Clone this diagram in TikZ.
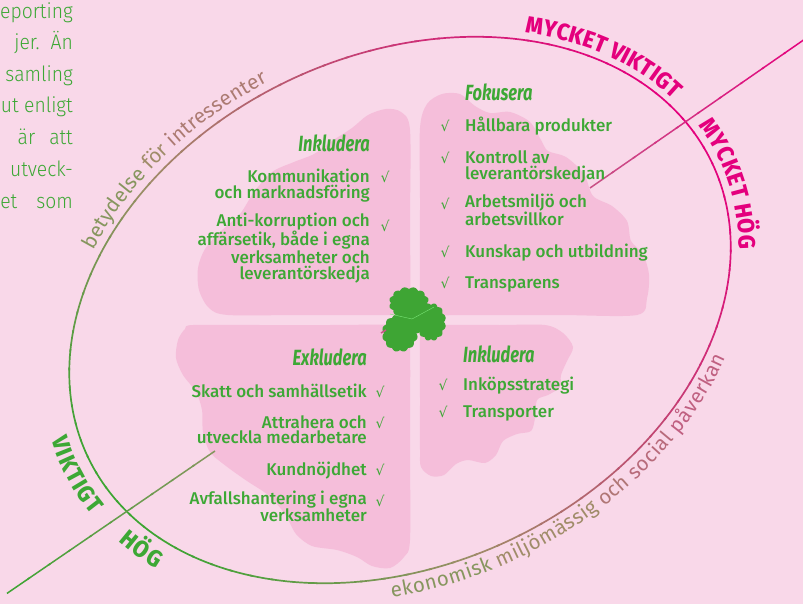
\documentclass[tikz,border=0pt]{standalone}
\usepackage{fontspec}
\usetikzlibrary{decorations.text,calc}
\setmainfont{Fira Sans}
\IfFontExistsTF{Fira Sans Medium}
  {\newfontfamily\itemfont{Fira Sans Medium}}
  {\newfontfamily\itembase{Fira Sans}\newcommand\itemfont{\itembase\bfseries}}
\IfFontExistsTF{Fira Sans Light}
  {\newfontfamily\parafont{Fira Sans Light}[FakeStretch=0.92]}
  {\newfontfamily\parafont{Fira Sans}[FakeStretch=0.92]}
\IfFontExistsTF{Fira Sans ExtraBold}
  {\newfontfamily\capsfont{Fira Sans ExtraBold}[FakeStretch=0.92]}
  {\newfontfamily\capsbase{Fira Sans}[FakeStretch=0.92]\newcommand\capsfont{\capsbase\bfseries}}
\newfontfamily\headfont{Fira Sans}[FakeStretch=0.75]
\newfontfamily\arcfont{Fira Sans}
\newfontfamily\chkfont{DejaVu Sans}
\newcommand\arcsz{\arcfont\fontsize{20.5}{20.5}\selectfont}
\newcommand\capsz{\capsfont\fontsize{23.5}{23.5}\selectfont}

\definecolor{bgpink}{RGB}{249,216,233}
\definecolor{leafpink}{RGB}{245,190,218}
\definecolor{txtgreen}{RGB}{61,168,53}
\definecolor{linegreen}{RGB}{60,165,50}
\definecolor{midtan}{RGB}{160,140,105}
\definecolor{hotpink}{RGB}{228,0,125}
\definecolor{lineolive}{RGB}{135,150,95}
\definecolor{linemauve}{RGB}{200,85,135}
\definecolor{clovergreen}{RGB}{62,165,52}

\tikzset{
  leaf/.style={fill=leafpink},
  head/.style={font=\headfont\bfseries\itshape\fontsize{22}{24}\selectfont, text=txtgreen, inner sep=0pt},
  itemL/.style={font=\itemfont\fontsize{17}{15.7}\selectfont, text=txtgreen, align=left, anchor=base west, inner sep=0pt},
  itemR/.style={font=\itemfont\fontsize{17}{15.7}\selectfont, text=txtgreen, align=right, anchor=base east, inner sep=0pt},
  chk/.style={font=\chkfont\fontsize{14}{14}\selectfont, text=txtgreen, anchor=base, inner sep=0pt},
  para/.style={font=\parafont\fontsize{21}{21}\selectfont, text=txtgreen, anchor=base east, inner sep=0pt},
}

\begin{document}
\begin{tikzpicture}[x=1pt, y=-1pt,
  declare function={ex(\u)=400+312.7*cos(\u)-107.8*sin(\u); ey(\u)=310-145.8*cos(\u)-231.1*sin(\u);}]
\useasboundingbox (0,0) rectangle (803,604);
\fill[bgpink] (0,0) rectangle (803,604);

% the four leaves
\fill[leaf] plot[smooth cycle] coordinates {(410,130) (410,220) (410,300) (404,312) (392,315) (300,315) (228,315) (209,308) (199,290) (198,268) (205,249) (220,232) (240,214) (254,192) (272,172) (294,162) (314,154) (332,141) (352,128) (368,115) (386,109) (401,112)};
\fill[leaf] plot[smooth cycle] coordinates {(420,300) (420,200) (420,128) (427,104) (442,94) (460,94) (475,106) (490,113) (510,112) (530,122) (541,140) (548,151) (566,157) (584,174) (593,196) (612,206) (627,221) (631,241) (643,254) (649,275) (647,298) (637,315) (560,315) (470,315) (428,315) (421,309)};
\fill[leaf] plot[smooth cycle] coordinates {(193,325) (260,325) (330,325) (394,325) (406,331) (410,345) (410,450) (410,540) (404,557) (390,568) (372,566) (357,557) (337,550) (312,546) (296,534) (285,514) (268,495) (247,481) (226,466) (210,452) (203,432) (202,410) (196,392) (183,375) (176,358) (178,340) (185,329)};
\fill[leaf] plot[smooth cycle] coordinates {(420,340) (424,328) (435,325) (500,325) (545,325) (563,333) (573,347) (567,361) (561,375) (560,387) (548,395) (537,400) (535,418) (531,431) (517,434) (503,441) (496,455) (485,463) (468,460) (456,464) (444,475) (431,476) (421,467) (420,450) (420,400)};

% rim, green to pink
\foreach \t in {0,4,...,356}{
  \pgfmathsetmacro\s{(1+cos(\t+2-12))/2}
  \ifdim\s pt<0.35pt
    \pgfmathsetmacro\q{\s/0.35*100}\colorlet{rimc}{midtan!\q!linegreen}
  \else
    \pgfmathsetmacro\q{(\s-0.35)/0.65*100}\colorlet{rimc}{hotpink!\q!midtan}
  \fi
  \draw[rimc, line width=1.7pt] plot[domain=\t:\t+4.5, samples=4] ({ex(\x)},{ey(\x)});
}

% the two axes
\coordinate (hiIn) at (590,188);
\coordinate (hiOut) at (805,39);
\coordinate (loIn) at (215,451);
\coordinate (loOut) at (9,592);
\foreach \i [evaluate=\i as \p using \i*10+5, evaluate=\i as \fa using \i/10, evaluate=\i as \fb using \i/10+0.11] in {0,...,9}{
  \draw[hotpink!\p!linemauve, line width=1.5pt] ($(hiIn)!\fa!(hiOut)$) -- ($(hiIn)!\fb!(hiOut)$);
  \draw[linegreen!\p!lineolive, line width=1.5pt] ($(loIn)!\fa!(loOut)$) -- ($(loIn)!\fb!(loOut)$);
}

% clover
\fill[clovergreen] (413,319) circle (15);
\foreach \cx/\cy/\rx/\ry in {409/303/20/16, 400/333/18/19, 431/322/15/19}
  \fill[clovergreen] plot[domain=0:360, samples=200] ({\cx+(\rx-2+2*abs(sin(6*\x)))*cos(\x)},{\cy+(\ry-2+2*abs(sin(6*\x)))*sin(\x)}) -- cycle;
\draw[green!50!clovergreen!60!white, line width=0.4pt] (390,314) -- (412,319) -- (434,307);
\draw[linemauve, line width=1.5pt] (381,333) -- (386,330);

% labels on the rim
\path[decorate, decoration={text along path, raise=7pt,
  text={|\capsz\color{hotpink}|MYCKET VIKTIGT}}]
  plot[samples at={49,48,...,5}] ({ex(\x)},{ey(\x)});
\path[decorate, decoration={text along path, raise=8pt,
  text={|\capsz\color{hotpink}|MYCKET HÖG}}]
  plot[samples at={9,8,...,-40}] ({ex(\x)},{ey(\x)});
\path[decorate, decoration={text along path, raise=-28pt,
  text={|\capsz\color{txtgreen}|VIKTIGT}}]
  plot[samples at={174,175,...,200}] ({ex(\x)},{ey(\x)});
\path[decorate, decoration={text along path, raise=-28pt,
  text={|\capsz\color{txtgreen}|HÖG}}]
  plot[samples at={198,199,...,225}] ({ex(\x)},{ey(\x)});
\path[decorate, decoration={text along path, raise=8pt,
  text={|\arcsz\color{lineolive}|betydelse |\arcsz\color{midtan}|för |\arcsz\color{midtan!70!linemauve}|intressenter}}]
  plot[samples at={136,135,...,80}] ({ex(\x)},{ey(\x)});
\path[decorate, decoration={text along path, raise=-20pt,
  text={|\arcsz\color{lineolive}|ekonomisk |\arcsz\color{midtan}|miljömässig |\arcsz\color{midtan!60!linemauve}|och |\arcsz\color{midtan!40!linemauve}|social |\arcsz\color{midtan!20!linemauve}|påverkan}}]
  plot[samples at={-111,-110,...,-25}] ({ex(\x)},{ey(\x)});

% upper left: Inkludera (multi-line nodes sit on their last line)
\node[head, anchor=base east] (hUL) at (370,152) {Inkludera};
\node[itemR] (k1) at (370,198.7) {Kommunikation\\och marknadsföring};
\node[itemR] (k2) at (370,279.1) {Anti-korruption och\\affärsetik, både i egna\\verksamheter och\\leverantörskedja};
\node[chk] (c1) at (385,183) {√};
\node[chk] (c2) at (385,232) {√};

% upper right: Fokusera
\node[head, anchor=base west] (hUR) at (465,101) {Fokusera};
\node[itemL] (f1) at (465,132) {Hållbara produkter};
\node[itemL] (f2) at (465,179.7) {Kontroll av\\leverantörskedjan};
\node[itemL] (f3) at (465,225.7) {Arbetsmiljö och\\arbetsvillkor};
\node[itemL] (f4) at (465,257) {Kunskap och utbildning};
\node[itemL] (f5) at (465,288) {Transparens};
\foreach \yy [count=\n] in {132,164,210,257,288}
  \node[chk] (c\n UR) at (445,\yy) {√};

% lower left: Exkludera
\node[head, anchor=base east] (hLL) at (367,365) {Exkludera};
\node[itemR] (e1) at (367,397) {Skatt och samhällsetik};
\node[itemR] (e2) at (367,443.7) {Attrahera och\\utveckla medarbetare};
\node[itemR] (e3) at (367,475) {Kundnöjdhet};
\node[itemR] (e4) at (367,521.7) {Avfallshantering i egna\\verksamheter};
\foreach \yy [count=\n] in {397,428,475,506}
  \node[chk] (c\n LL) at (380,\yy) {√};

% lower right: Inkludera
\node[head, anchor=base west] (hLR) at (463,362) {Inkludera};
\node[itemL] (i1) at (463,390) {Inköpsstrategi};
\node[itemL] (i2) at (463,417) {Transporter};
\node[chk] (c1LR) at (443,390) {√};
\node[chk] (c2LR) at (443,417) {√};

% cut paragraph at the left edge
\foreach \yy/\txt [count=\n] in {19/eporting, 50/{jer.\hspace{11pt}Än}, 82/samling, 113/ut enligt, 145/{är\hspace{14pt}att}, 177/utveck-, 208/{et\hspace{19pt}som}}
  \node[para] (p\n) at (73,\yy) {\txt};
\end{tikzpicture}
\end{document}
